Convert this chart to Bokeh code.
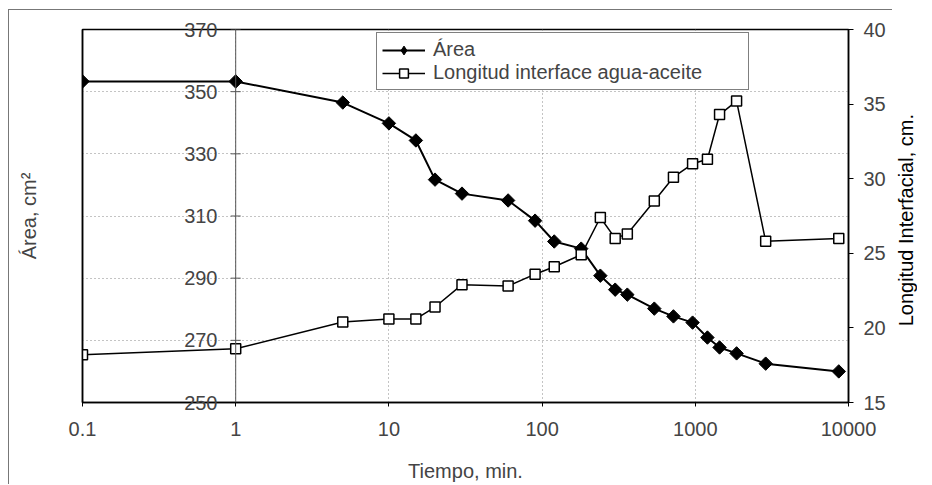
from bokeh.plotting import figure
from bokeh.layouts import row
from bokeh.models import (Range1d, LinearAxis, FixedTicker, Span, Legend, LegendItem,
                          ColumnDataSource, Div)
from bokeh.embed import file_html
from bokeh.resources import INLINE
import numpy as np

# ---- data ----
tiempo_min = [0.1, 1, 5, 10, 15, 20, 30, 60, 90, 120, 180, 240, 300, 360, 540, 720, 960,
              1200, 1440, 1860, 2880, 8640]
area_cm2 = [353.3, 353.3, 346.5, 339.8, 334.3, 321.7, 317.2, 315.0, 308.5, 301.8, 299.5,
            290.8, 286.3, 284.7, 280.2, 277.7, 275.7, 270.9, 267.7, 265.8, 262.5, 260.0]
longitud_cm = [18.2, 18.6, 20.4, 20.6, 20.6, 21.4, 22.9, 22.8, 23.6, 24.1, 24.9,
               27.4, 26.0, 26.3, 28.5, 30.1, 31.0, 31.3, 34.3, 35.2, 25.8, 26.0]

x_ticks = [0.1, 1, 10, 100, 1000, 10000]
x_tick_labels = ["0.1", "1", "10", "100", "1000", "10000"]
area_ticks = [250, 270, 290, 310, 330, 350, 370]
long_ticks = [15, 20, 25, 30, 35, 40]
value_axis_crosses_at = 1
right_title = "Longitud Interfacial, cm."

FONT = "Liberation Sans"
FS = "20px"

fig = figure(width=884, height=475, x_axis_type="log", output_backend="svg",
             toolbar_location=None, x_range=Range1d(0.1, 10000), y_range=Range1d(250, 370),
             min_border_left=73, min_border_right=45, min_border_top=19,
             min_border_bottom=83)
fig.styles = {"border-top": "1px solid #777", "border-left": "1px solid #777"}
fig.background_fill_color = "white"
fig.border_fill_color = "white"
fig.outline_line_color = "black"
fig.outline_line_width = 1.5
fig.extra_y_ranges = {"long": Range1d(15, 40)}

# grids
fig.xgrid.ticker = FixedTicker(ticks=x_ticks)
fig.xgrid.grid_line_color = "#888"
fig.xgrid.grid_line_dash = "1 3"
fig.ygrid.ticker = FixedTicker(ticks=area_ticks)
fig.ygrid.grid_line_color = "#888"
fig.ygrid.grid_line_dash = "1 3"

# x axis
xa = fig.xaxis[0]
xa.ticker = FixedTicker(ticks=x_ticks)
xa.major_label_overrides = {t: l for t, l in zip(x_ticks, x_tick_labels)}
xa.axis_label = "Tiempo, min."
xa.axis_line_color = "black"
xa.axis_line_width = 1.5
xa.major_tick_in = 0
xa.major_tick_out = 4
xa.minor_tick_line_color = None
xa.major_label_standoff = 15
xa.axis_label_standoff = 21
xa.major_label_text_font = FONT
xa.major_label_text_font_size = FS
xa.axis_label_text_font = FONT
xa.axis_label_text_font_size = FS
xa.axis_label_text_font_style = "normal"

# left axis: value labels drawn inward, next to the crossing at x = 1
ya = fig.yaxis[0]
ya.ticker = FixedTicker(ticks=area_ticks)
ya.axis_label = "Área, cm²"
ya.axis_line_color = "black"
ya.axis_line_width = 1.5
ya.major_tick_in = 0
ya.major_tick_out = 0
ya.minor_tick_line_color = None
ya.major_label_standoff = -135
ya.axis_label_standoff = 141
ya.major_label_text_font = FONT
ya.major_label_text_font_size = FS
ya.axis_label_text_font = FONT
ya.axis_label_text_font_size = FS
ya.axis_label_text_font_style = "normal"

# right axis (ticks and labels)
ra = LinearAxis(y_range_name="long", ticker=FixedTicker(ticks=long_ticks))
ra.axis_line_color = "black"
ra.axis_line_width = 1.5
ra.major_tick_in = 0
ra.major_tick_out = 5
ra.minor_tick_line_color = None
ra.major_label_standoff = 10
ra.major_label_text_font = FONT
ra.major_label_text_font_size = FS
fig.add_layout(ra, "right")

# value axis crossing at x = 1
fig.add_layout(Span(location=value_axis_crosses_at, dimension="height",
                    line_color="#555", line_width=1))
tick_src = ColumnDataSource(dict(x=[value_axis_crosses_at] * len(area_ticks), y=area_ticks))
fig.scatter("x", "y", source=tick_src, marker="dash", size=10, line_color="#555",
            line_width=1)

# series
src = ColumnDataSource(dict(x=tiempo_min, a=area_cm2, l=longitud_cm))
la = fig.line("x", "a", source=src, line_color="black", line_width=2)
ma = fig.scatter("x", "a", source=src, marker="square", angle=np.pi / 4, size=9.5,
                 fill_color="black", line_color="black")
ll = fig.line("x", "l", source=src, line_color="black", line_width=1.5,
              y_range_name="long")
ml = fig.scatter("x", "l", source=src, marker="square", size=10, fill_color="white",
                 line_color="black", line_width=1.5, y_range_name="long")
# legend-only diamond (a single undefined point, never drawn on the plot)
nan = float("nan")
leg_diamond = fig.scatter(x=[nan], y=[nan], marker="diamond", size=13, fill_color="black",
                          line_color="black")

legend = Legend(items=[LegendItem(label="Área", renderers=[la, leg_diamond]),
                       LegendItem(label="Longitud interface agua-aceite",
                                  renderers=[ll, ml])],
                location=(294, 312))
legend.border_line_color = "black"
legend.border_line_width = 1.5
legend.background_fill_alpha = 1
legend.padding = 5
legend.spacing = 0
legend.margin = 0
legend.glyph_width = 43
legend.glyph_height = 22
legend.label_height = 22
legend.label_standoff = 8
legend.label_width = 310
legend.label_text_font = FONT
legend.label_text_font_size = FS
fig.add_layout(legend)

# right axis title, reading upwards
title_div = Div(
    width=31, height=475,
    text=('<div style="height:412px;width:18px;display:flex;align-items:center;'
          'justify-content:center;">'
          '<span style="writing-mode:vertical-rl;transform:rotate(180deg);'
          'white-space:nowrap;font-family:\'Liberation Sans\';font-size:20px;'
          'color:#000;line-height:1;">' + right_title + '</span></div>'))

p = row(fig, title_div, styles={"margin-left": "8px", "margin-top": "9px"})

open("out.html", "w").write(file_html(p, INLINE))
